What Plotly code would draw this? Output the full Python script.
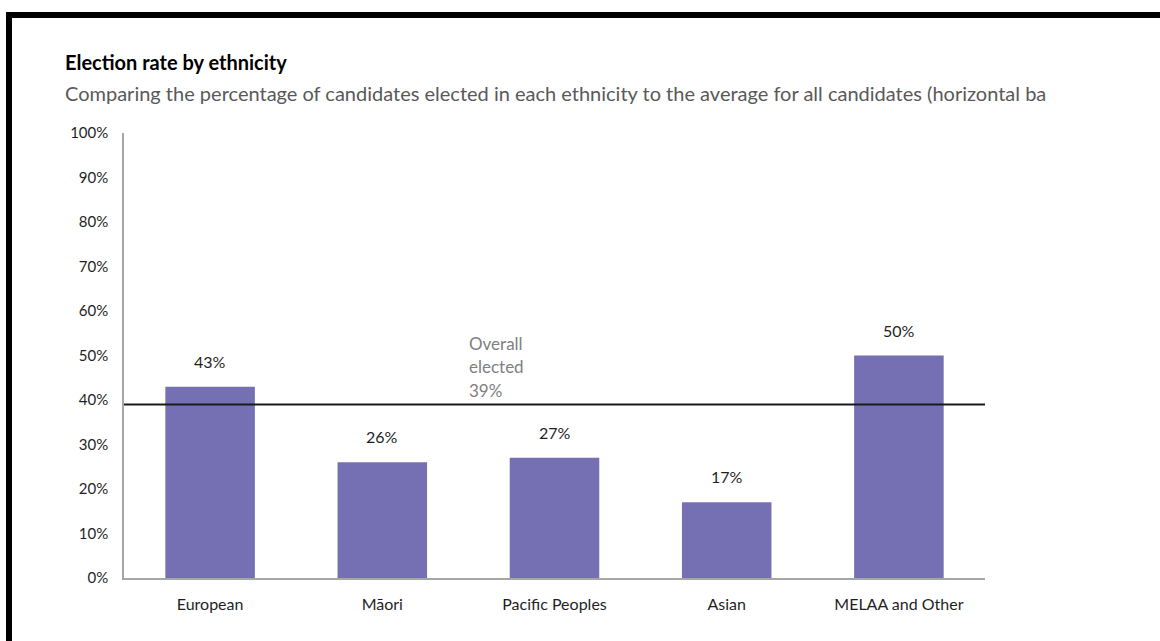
import plotly.graph_objects as go

# Election rate by ethnicity (percent of candidates elected)
categories = ["European", "Māori", "Pacific Peoples", "Asian", "MELAA and Other"]
elected_pct = [43, 26, 27, 17, 50]
overall_pct = 39
y_ticks = [0, 10, 20, 30, 40, 50, 60, 70, 80, 90, 100]
y_tick_labels = [f"{t}%" for t in y_ticks]

W, H = 1160, 641
M_L, M_R, M_T, M_B = 124, 175, 133, 63
PW, PH = W - M_L - M_R, H - M_T - M_B


def px_x(x):
    return (x - M_L) / PW


def px_y(y):
    return (H - M_B - y) / PH


FONT = "Lato, 'Open Sans', sans-serif"
BAR = "#7570B3"

fig = go.Figure()
fig.add_trace(go.Bar(
    x=categories,
    y=elected_pct,
    width=0.52,
    marker=dict(color=BAR, line=dict(width=0)),
    hoverinfo="skip",
))

# value labels above each bar
for c, v in zip(categories, elected_pct):
    fig.add_annotation(
        x=c, y=v, text=f"{v}%", showarrow=False,
        yanchor="bottom", yshift=14,
        font=dict(family=FONT, size=16, color="#1f1f1f"),
    )

# overall average line
fig.add_shape(
    type="line", xref="paper", yref="y",
    x0=0, x1=1, y0=overall_pct, y1=overall_pct,
    line=dict(color="#1a1a1a", width=2),
)
for i, line in enumerate(["Overall", "elected", f"{overall_pct}%"]):
    fig.add_annotation(
        xref="paper", yref="y", x=px_x(467), y=overall_pct,
        text=line, showarrow=False, xanchor="left", yanchor="middle",
        yshift=(2 - i) * 23.5 + 14,
        font=dict(family=FONT, size=17, color="#808080"),
    )

# title and subtitle
fig.add_annotation(
    xref="paper", yref="paper", x=px_x(63), y=px_y(62),
    text="<b>Election rate by ethnicity</b>", showarrow=False,
    xanchor="left", yanchor="middle",
    font=dict(family=FONT, size=20, color="#000000"),
)
fig.add_annotation(
    xref="paper", yref="paper", x=px_x(63), y=px_y(93),
    text="Comparing the percentage of candidates elected in each ethnicity to the average for all candidates (horizontal ba",
    showarrow=False, xanchor="left", yanchor="middle",
    font=dict(family=FONT, size=20, color="#595959"),
)

# outer frame (top and left edges)
fig.add_shape(type="line", xref="paper", yref="paper",
              x0=px_x(6), x1=px_x(1200), y0=px_y(15), y1=px_y(15),
              line=dict(color="#000000", width=6))
fig.add_shape(type="line", xref="paper", yref="paper",
              x0=px_x(9), x1=px_x(9), y0=px_y(12), y1=px_y(700),
              line=dict(color="#000000", width=6))

fig.update_layout(
    width=W, height=H,
    margin=dict(l=M_L, r=M_R, t=M_T, b=M_B),
    paper_bgcolor="white", plot_bgcolor="white",
    showlegend=False,
    bargap=0.48,
    font=dict(family=FONT, size=15, color="#1f1f1f"),
)
fig.update_xaxes(
    showline=True, linecolor="#A6A6A6", linewidth=1.5,
    showgrid=False, ticks="", ticklabelstandoff=11,
    tickfont=dict(family=FONT, size=16, color="#1f1f1f"),
)
fig.update_yaxes(
    range=[0, 100], tickmode="array", tickvals=y_ticks, ticktext=y_tick_labels,
    showline=True, linecolor="#A6A6A6", linewidth=1.5,
    showgrid=False, zeroline=False, ticks="", ticklabelstandoff=11,
    tickfont=dict(family=FONT, size=15, color="#1f1f1f"),
)

fig.write_html("out.html")
